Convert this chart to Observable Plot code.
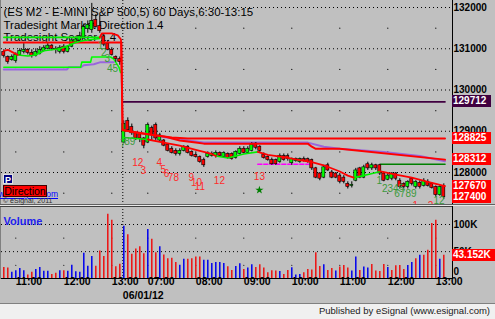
<!DOCTYPE html>
<html><head><meta charset="utf-8">
<script src="https://cdn.jsdelivr.net/npm/d3@7"></script>
<script src="https://cdn.jsdelivr.net/npm/@observablehq/plot@0.6"></script>
<style>
html,body{margin:0;padding:0;background:#c0c0c0;}
#wrap{position:relative;width:495px;height:319px;overflow:hidden;background:#c0c0c0;font-family:"Liberation Sans",Arial,sans-serif;}
#wrap svg{position:absolute;left:0;}
.ov{position:absolute;white-space:nowrap;}
</style></head><body><div id="wrap"></div>
<script>
// ---------- DATA ----------
const open = [130925,130800,130725,130700,130850,130925,130975,130900,130825,130875,
130950,131000,131075,131000,130925,131050,130925,131050,131150,131200,
131275,131475,131450,131700,131550,131300,131125,130975,130800,130750,
128725,129250,129100,128950,128925,128825,128725,129075,129150,128775,
128775,128675,128575,128525,128450,128525,128625,128500,128425,128375,
128300,128375,128400,128400,128475,128375,128450,128450,128350,128450,
128575,128475,128525,128700,128625,128425,128375,128300,128300,128250,
128400,128400,128225,128275,128250,128325,128325,128300,128100,127975,
127875,128175,128000,127975,127925,127875,127725,127675,127800,128100,
127875,128200,128100,128175,128175,127975,127825,127850,127975,127800,
127725,127650,127850,127650,127750,127675,127775,127725,127650,127450,127675];
const high = [130975,130825,130850,130900,131000,131125,131000,130975,131000,131050,
131075,131125,131100,131050,131075,131100,131075,131250,131275,131400,
131600,131675,132100,131825,131800,131325,131200,131025,130825,130800,
129250,129325,129175,128975,128950,128850,129200,129125,129200,128950,
128800,128700,128625,128575,128575,128650,128650,128525,128475,128400,
128350,128500,128500,128525,128500,128500,128475,128475,128525,128625,
128625,128625,128725,128725,128650,128475,128400,128350,128325,128450,
128450,128450,128350,128350,128350,128375,128350,128325,128125,128000,
128175,128225,128050,128000,127975,127925,127775,127775,128100,128125,
128175,128250,128225,128200,128200,128000,127975,128000,128000,127850,
127750,127800,127875,127800,127800,127850,127825,127750,127675,127675,127725];
const low = [130775,130625,130700,130650,130825,130875,130850,130775,130800,130850,
130925,130975,130950,130875,130875,130875,130900,131025,131125,131150,
131250,131375,131375,131500,131375,131050,130950,130825,130675,130600,
128700,128975,128900,128775,128725,128575,128700,128775,128775,128750,
128625,128500,128450,128400,128400,128500,128450,128375,128350,128225,
128125,128350,128375,128350,128375,128350,128325,128300,128325,128425,
128450,128450,128500,128550,128475,128325,128275,128175,128175,128225,
128275,128275,128175,128250,128225,128250,128225,128050,127850,127800,
127850,128025,127850,127850,127725,127725,127600,127625,127775,127850,
127850,128050,128050,128050,127925,127775,127800,127800,127800,127600,
127600,127600,127675,127600,127600,127650,127650,127600,127400,127425,127350];
const close = [130825,130675,130800,130850,130950,130975,130900,130825,130925,130975,
131025,131075,131000,130975,131025,130925,131050,131200,131225,131300,
131525,131575,131675,131525,131425,131100,130975,130850,130750,130675,
129175,129025,128950,128825,128825,128650,129150,128900,128825,128900,
128650,128525,128475,128450,128525,128625,128475,128400,128375,128250,
128175,128450,128450,128475,128400,128475,128350,128325,128500,128575,
128475,128575,128675,128600,128525,128350,128300,128200,128200,128400,
128300,128325,128325,128325,128325,128275,128250,128100,127875,127850,
128125,128050,127875,127875,127775,127775,127650,127700,128050,127875,
128125,128100,128175,128100,127975,127800,127925,127975,127850,127650,
127650,127775,127725,127775,127650,127800,127675,127625,127450,127650,127400];
const volume = [21000,20000,12000,15000,19000,15000,7000,12000,17000,21000,
14000,14000,8000,10000,15000,15000,14000,25000,13000,12000,
47000,23000,41000,23000,51000,41000,119000,108000,22000,27000,
97000,81000,45000,55000,59000,46000,91000,73000,48000,59000,
44000,37000,38000,30000,25000,36000,36000,37000,40000,40000,
34000,34000,28000,30000,30000,28000,22000,15400,22800,27800,
17300,19800,25900,21000,25900,19800,11100,14800,14200,13600,
8000,15400,20400,6800,8000,11100,17300,16000,48100,22800,
25900,15400,19100,14200,21600,24700,19800,14200,40100,15400,
21600,19800,26500,14200,13600,26500,21000,15400,24100,24700,
17300,24700,30200,37000,43200,43200,52500,101900,108000,35800,43152];
const volUp = [0,0,1,1,1,1,0,0,1,1, 1,1,0,0,1,0,1,1,1,1, 1,1,1,0,0,0,0,0,0,0,
1,0,0,0,0,0,1,0,0,1, 0,0,0,0,1,1,0,0,0,0, 1,1,1,1,1,1,0,0,1,1,
0,1,1,0,0,0,0,0,0,1, 0,0,1,1,1,0,0,0,0,0, 1,0,0,1,0,0,0,1,1,0,
1,1,0,0,0,0,1,0,0,0, 0,1,1,0,1,0,0,0,0,1,0];

const priceTicks = [132000,131000,130000,129000,128000];
const priceHalf = [131500,130500,129500,128500,127500];
const volTicks = [100000,50000];
const volHalf = [75000,25000];
const gridBars = [3,15,27,36,48,60,72,84,96,108];
const hourLabels = ["11:00","12:00","13:00","07:00","08:00","09:00","10:00","11:00","12:00","13:00"];
const sessionBreak = 29.75;
const dateLabel = "06/01/12";
const titles = ["(ES M2 - E-MINI S&P 500,5) 60 Days,6:30-13:15","Tradesight Market Direction 1.4","Tradesight Seeker 1.4"];

// indicator lines, [bar, price]
const levelRed = [[0,131150],[29.4,131150],[29.7,129025],[30,129025],[34,128950],[38,128900],[42,128850],[46,128825],[110.3,128825]];
const slopeRed = [[30,129025],[38,128900],[40,128875],[44,128775],[48,128725],[50,128700],[76,128700],[77,128625],[78,128575],[84,128575],[110.3,128312]];
const purpleDay1 = [[0,130500],[15.8,130500],[16.2,130550],[19.2,130550],[20,130600],[22.5,130625],[24.2,130675],[27.5,130675]];
const purpleDay2 = [[39,128875],[44,128800],[50,128725],[76,128725],[80,128625],[84,128575],[95,128500],[104,128400],[110.3,128275]];
const greenLowDay1 = [[0,130550],[19.2,130550],[19.5,130675],[21.7,130675],[22,130800],[26.7,130800],[27.5,130750],[28.8,130550],[29.2,130425]];
const stopGreen = [
  [[0,131275],[24,131275]],
  [[3.5,130850],[6,130825],[8,130850],[10,130950],[12,130975],[14,131000],[16,131075],[18,131150],[20,131200],[22,131225],[24,131250]],
  [[30,128850],[36,128800]],
  [[53,128400],[56,128350],[60,128450],[63.5,128500]],
  [[87.5,127875],[90,127925],[94.2,128025]]
];
const stopRed = [
  [[0,130950],[1,130975],[2,130925],[3.5,130850]],
  [[24,131275],[24.5,131375],[27,131375],[28.5,131325],[29.3,131225],[29.7,129025]],
  [[36,128800],[40,128725],[44,128650],[48,128550],[52,128450],[53,128400]],
  [[63.5,128500],[66,128425],[70,128375],[74,128300],[77,128250],[80,128175],[84,128025],[86,127925],[87.5,127875]],
  [[94.2,128025],[98,127950],[102,127875],[106,127775],[110.3,127670]]
];
const pivotLine = [[29.7,129712],[110.3,129712]];
const supportLine = [[94.2,128200],[110.3,128200]];
const dashedLine = [[63.5,128200],[76.2,128200]];

const redCounts = [[33.5,128225,"12"],[34.9,128050,"3"],[38.9,128225,"4"],[39.9,128075,"5"],[40.7,127975,"6"],[42.4,127875,"78"],[46.9,127875,"9"],[48.2,127750,"10"],[49,127650,"11"],[53.9,127800,"12"],[63.9,127900,"13"],[102.9,127200,"1"],[106.7,127200,"2"]];
const greenCounts = [[24.2,131075,"1"],[25,130900,"2"],[25.9,130750,"3"],[27.2,130525,"45"],[29.8,128700,"7"],[31.5,128750,"89"],[93.9,127800,"1"],[97.3,127600,"2345"],[100.4,127475,"6789"],[108.8,127325,"12"]];
const starMark = [[63.9,127575]];

const markerValues = [129712,128825,128312,127670,127400];
const markerColors = ["#400040","#ff0000","#ff0000","#ff0000","#ff0000"];
const lastVolume = 43152;

// ---------- BUILD ----------
const FONT = "'Liberation Sans', Arial, sans-serif";
const bars = d3.range(open.length);
const candles = bars.map(k => ({k, o: open[k], h: high[k], l: low[k], c: close[k]}));
const vols = bars.map(k => ({k, v: volume[k], up: volUp[k]}));
const pts = (arr, z) => arr.map(([k,p]) => ({k, p, z}));
const segs = list => list.flatMap((s,i) => pts(s,i));
const cross = (ks, ys) => ks.flatMap(k => ys.map(p => ({k, p})));
const wrap = document.getElementById("wrap");

const P1 = Plot.plot({
  width: 495, height: 204,
  marginLeft: 1, marginRight: 43, marginTop: 0, marginBottom: 0,
  x: {domain: [0, 110], range: [3.3, 443.3], axis: null},
  y: {domain: [127000, 132000], range: [213.25, 7], axis: null},
  color: {type: "identity"},
  style: {background: "transparent", fontFamily: FONT, overflow: "hidden"},
  marks: [
    Plot.ruleY(priceTicks, {stroke: "#000", strokeDasharray: "1,3"}),
    Plot.dot(cross(gridBars, priceHalf), {x: "k", y: "p", r: 0.6, fill: "#000"}),
    Plot.ruleX([sessionBreak], {stroke: "#000", strokeDasharray: "1,2"}),
    ...titles.map((t,i) => Plot.text([t], {frameAnchor: "top-left", dx: 2, dy: 7.5 + 12.6*i, textAnchor: "start", fontSize: 11.5, fill: "#000"})),
    Plot.line(pts(pivotLine,0), {x: "k", y: "p", stroke: "#400040", strokeWidth: 1.6}),
    Plot.line(pts(dashedLine,0), {x: "k", y: "p", stroke: "#ff00ff", strokeWidth: 1.6, strokeDasharray: "4,2"}),
    Plot.line(pts(supportLine,0), {x: "k", y: "p", stroke: "#008000", strokeWidth: 1.6}),
    Plot.line([...pts(purpleDay1,0), ...pts(purpleDay2,1)], {x: "k", y: "p", z: "z", stroke: "#9966dd", strokeWidth: 2}),
    Plot.line(pts(greenLowDay1,0), {x: "k", y: "p", stroke: "#00ff00", strokeWidth: 1.6}),
    Plot.ruleX(candles, {x: "k", y1: "l", y2: "h", stroke: "#000", strokeWidth: 1}),
    Plot.rect(candles, {x1: d => d.k - 0.38, x2: d => d.k + 0.38, y1: d => Math.min(d.o, d.c), y2: d => Math.max(d.o, d.c),
      fill: d => d.c >= d.o ? "#00ff00" : "#ff0000", stroke: "#000", strokeWidth: 0.6}),
    Plot.line(pts(slopeRed,0), {x: "k", y: "p", stroke: "#ff0000", strokeWidth: 2}),
    Plot.line(pts(levelRed,0), {x: "k", y: "p", stroke: "#ff0000", strokeWidth: 2}),
    Plot.line(segs(stopGreen), {x: "k", y: "p", z: "z", stroke: "#00ee00", strokeWidth: 1.6}),
    Plot.line(segs(stopRed), {x: "k", y: "p", z: "z", stroke: "#ff0000", strokeWidth: 1.8}),
    Plot.text(redCounts, {x: d => d[0], y: d => d[1], text: d => d[2], fill: "#ff2a2a", fontSize: 10}),
    Plot.text(greenCounts, {x: d => d[0], y: d => d[1], text: d => d[2], fill: "#3c9a3c", fontSize: 10}),
    Plot.dot(starMark, {x: d => d[0], y: d => d[1], symbol: "star", r: 2.6, fill: "#008000"}),
    Plot.text(priceTicks, {y: d => d, text: d => String(d), frameAnchor: "right", dx: 1, textAnchor: "start", fontWeight: "bold", fontSize: 10, fill: "#000"})
  ]
});
P1.style.top = "0px";
wrap.appendChild(P1);

const P2 = Plot.plot({
  width: 495, height: 97,
  marginLeft: 1, marginRight: 43, marginTop: 0, marginBottom: 24.7,
  x: {domain: [0, 110], range: [3.3, 443.3], axis: null},
  y: {domain: [0, 100000], range: [72.3, 18], axis: null},
  color: {type: "identity"},
  style: {background: "transparent", fontFamily: FONT, overflow: "hidden"},
  marks: [
    Plot.ruleY(volTicks, {stroke: "#000", strokeDasharray: "1,3"}),
    Plot.dot(cross(gridBars, volHalf), {x: "k", y: "p", r: 0.6, fill: "#000"}),
    Plot.ruleX([sessionBreak], {stroke: "#000", strokeDasharray: "1,2"}),
    Plot.text(["Volume"], {frameAnchor: "top-left", dx: 2, dy: 11, textAnchor: "start", fontSize: 11, fontWeight: "bold", fill: "#2222ee"}),
    Plot.ruleX(vols, {x: "k", y1: 0, y2: "v", stroke: d => d.up ? "#0000ee" : "#ee1111", strokeWidth: 1.5}),
    Plot.text(volTicks, {y: d => d, text: d => d/1000 + "K", frameAnchor: "right", dx: 1, textAnchor: "start", fontWeight: "bold", fontSize: 10, fill: "#000"}),
    Plot.text([0], {y: d => d, text: d => String(d), frameAnchor: "right", dx: 1, dy: -7, textAnchor: "start", fontWeight: "bold", fontSize: 10, fill: "#000"}),
    Plot.text(gridBars, {x: d => d, text: (d,i) => hourLabels[i], frameAnchor: "bottom", dy: 6, textAnchor: "start", fontWeight: "bold", fontSize: 10.5, fill: "#000"}),
    Plot.text([sessionBreak], {x: d => d, text: () => dateLabel, frameAnchor: "bottom", dy: 20, textAnchor: "start", fontWeight: "bold", fontSize: 10.5, fill: "#000"})
  ]
});
P2.style.top = "206px";
wrap.appendChild(P2);

function ov(css, html) { const d = document.createElement("div"); d.className = "ov"; d.style.cssText += css; d.innerHTML = html; wrap.appendChild(d); return d; }

// panel chrome
ov("left:0;top:0;width:1px;height:279px;background:#808080;", "");
ov("left:452px;top:0;width:1px;height:204px;background:#000;", "");
ov("left:0;top:204px;width:495px;height:1px;background:#606060;", "");
ov("left:0;top:205px;width:495px;height:1px;background:#e8e8e8;", "");
ov("left:0;top:206px;width:453px;height:1px;background:#404040;", "");
ov("left:452px;top:206px;width:1px;height:73px;background:#000;", "");
ov("left:1px;top:278px;width:452px;height:1px;background:#000;", "");
ov("left:0;top:303px;width:495px;height:16px;background:#f0f0f0;border-top:1px solid #808080;box-sizing:border-box;", "");
ov("right:5px;top:305px;font-size:9.5px;color:#202020;font-family:" + FONT + ";", "Published by eSignal (www.esignal.com)");

// value markers on the price axis
const ys = P1.scale("y");
markerValues.forEach((v,i) => {
  const y = ys.apply(v);
  ov(`left:452px;top:${(y-6).toFixed(1)}px;width:38px;height:12px;background:${markerColors[i]};color:#fff;font-weight:bold;font-size:10px;line-height:12px;padding-left:1px;font-family:${FONT};`, String(v));
});
const yv = P2.scale("y");
ov(`left:452px;top:${(206 + yv.apply(lastVolume) - 6).toFixed(1)}px;width:42px;height:12px;background:#ff0000;color:#fff;font-weight:bold;font-size:10px;line-height:12px;padding-left:1px;font-family:${FONT};`, (lastVolume/1000).toFixed(3) + "K");

// lower-left study buttons
ov("right:437px;top:189px;font-size:8.5px;color:#0000ff;text-decoration:underline;font-family:" + FONT + ";", "www.esignal.com");
ov("left:3px;top:174px;width:10px;height:10px;background:#000080;color:#fff;font-weight:bold;font-size:9px;line-height:10px;text-align:center;border:1px solid #e0e0e0;box-sizing:border-box;font-family:" + FONT + ";", "P");
ov("left:3px;top:185px;width:44px;height:12px;background:#ff0000;color:#000;font-size:10.5px;line-height:11px;text-align:center;border:1px solid #400000;box-sizing:border-box;font-family:" + FONT + ";", "Direction");
ov("left:3px;top:197px;font-size:7px;color:#303030;font-family:" + FONT + ";", "&copy; eSignal, 2011");
</script></body></html>
